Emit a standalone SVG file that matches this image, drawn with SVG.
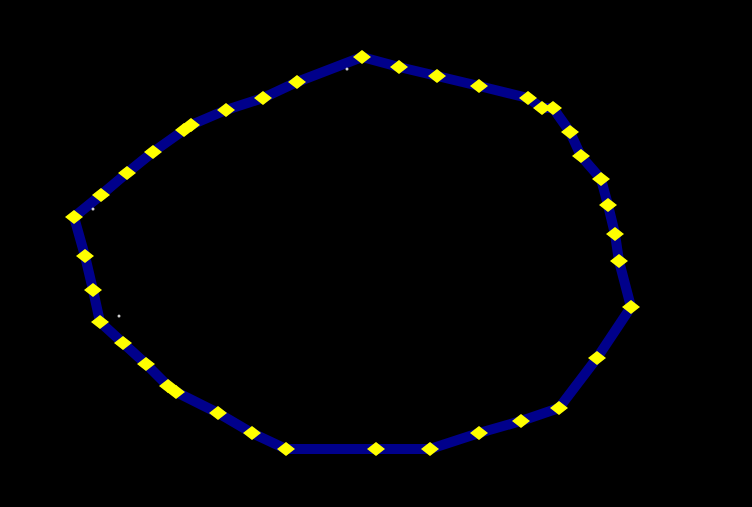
<svg xmlns="http://www.w3.org/2000/svg" xmlns:xlink="http://www.w3.org/1999/xlink" width="752" height="507" viewBox="0 0 752 507">
<style>
.ring{fill:none;stroke:#00008b;stroke-width:10;stroke-linejoin:round}
.v{fill:#ffff00}
.dot{fill:#d0d0d0}
</style>
<defs>
<polygon id="d" points="0,-7 9,0 0,7 -9,0"/>
</defs>
<rect width="752" height="507" fill="#000"/>
<g id="connectors">
<polygon class="ring" points="362,57 399,67 437,76 479,86 528,98 542,108 553,108 570,132 581,156 601,179 608,205 615,234 619,261 631,307 597,358 559,408 521,421 479,433 430,449 376,449 286,449 252,433 218,413 176,392 168,386 146,364 123,343 100,322 93,290 85,256 74,217 101,195 127,173 153,152 184,130 191,125 226,110 263,98 297,82"/>
</g>
<g id="vertices" class="v">
<use xlink:href="#d" x="362" y="57"/>
<use xlink:href="#d" x="399" y="67"/>
<use xlink:href="#d" x="437" y="76"/>
<use xlink:href="#d" x="479" y="86"/>
<use xlink:href="#d" x="528" y="98"/>
<use xlink:href="#d" x="542" y="108"/>
<use xlink:href="#d" x="553" y="108"/>
<use xlink:href="#d" x="570" y="132"/>
<use xlink:href="#d" x="581" y="156"/>
<use xlink:href="#d" x="601" y="179"/>
<use xlink:href="#d" x="608" y="205"/>
<use xlink:href="#d" x="615" y="234"/>
<use xlink:href="#d" x="619" y="261"/>
<use xlink:href="#d" x="631" y="307"/>
<use xlink:href="#d" x="597" y="358"/>
<use xlink:href="#d" x="559" y="408"/>
<use xlink:href="#d" x="521" y="421"/>
<use xlink:href="#d" x="479" y="433"/>
<use xlink:href="#d" x="430" y="449"/>
<use xlink:href="#d" x="376" y="449"/>
<use xlink:href="#d" x="286" y="449"/>
<use xlink:href="#d" x="252" y="433"/>
<use xlink:href="#d" x="218" y="413"/>
<use xlink:href="#d" x="176" y="392"/>
<use xlink:href="#d" x="168" y="386"/>
<use xlink:href="#d" x="146" y="364"/>
<use xlink:href="#d" x="123" y="343"/>
<use xlink:href="#d" x="100" y="322"/>
<use xlink:href="#d" x="93" y="290"/>
<use xlink:href="#d" x="85" y="256"/>
<use xlink:href="#d" x="74" y="217"/>
<use xlink:href="#d" x="101" y="195"/>
<use xlink:href="#d" x="127" y="173"/>
<use xlink:href="#d" x="153" y="152"/>
<use xlink:href="#d" x="184" y="130"/>
<use xlink:href="#d" x="191" y="125"/>
<use xlink:href="#d" x="226" y="110"/>
<use xlink:href="#d" x="263" y="98"/>
<use xlink:href="#d" x="297" y="82"/>
</g>
<g id="specks" class="dot">
<circle cx="347" cy="69" r="1.5"/>
<circle cx="93" cy="209" r="1.5"/>
<circle cx="119" cy="316" r="1.5"/>
</g>
</svg>
